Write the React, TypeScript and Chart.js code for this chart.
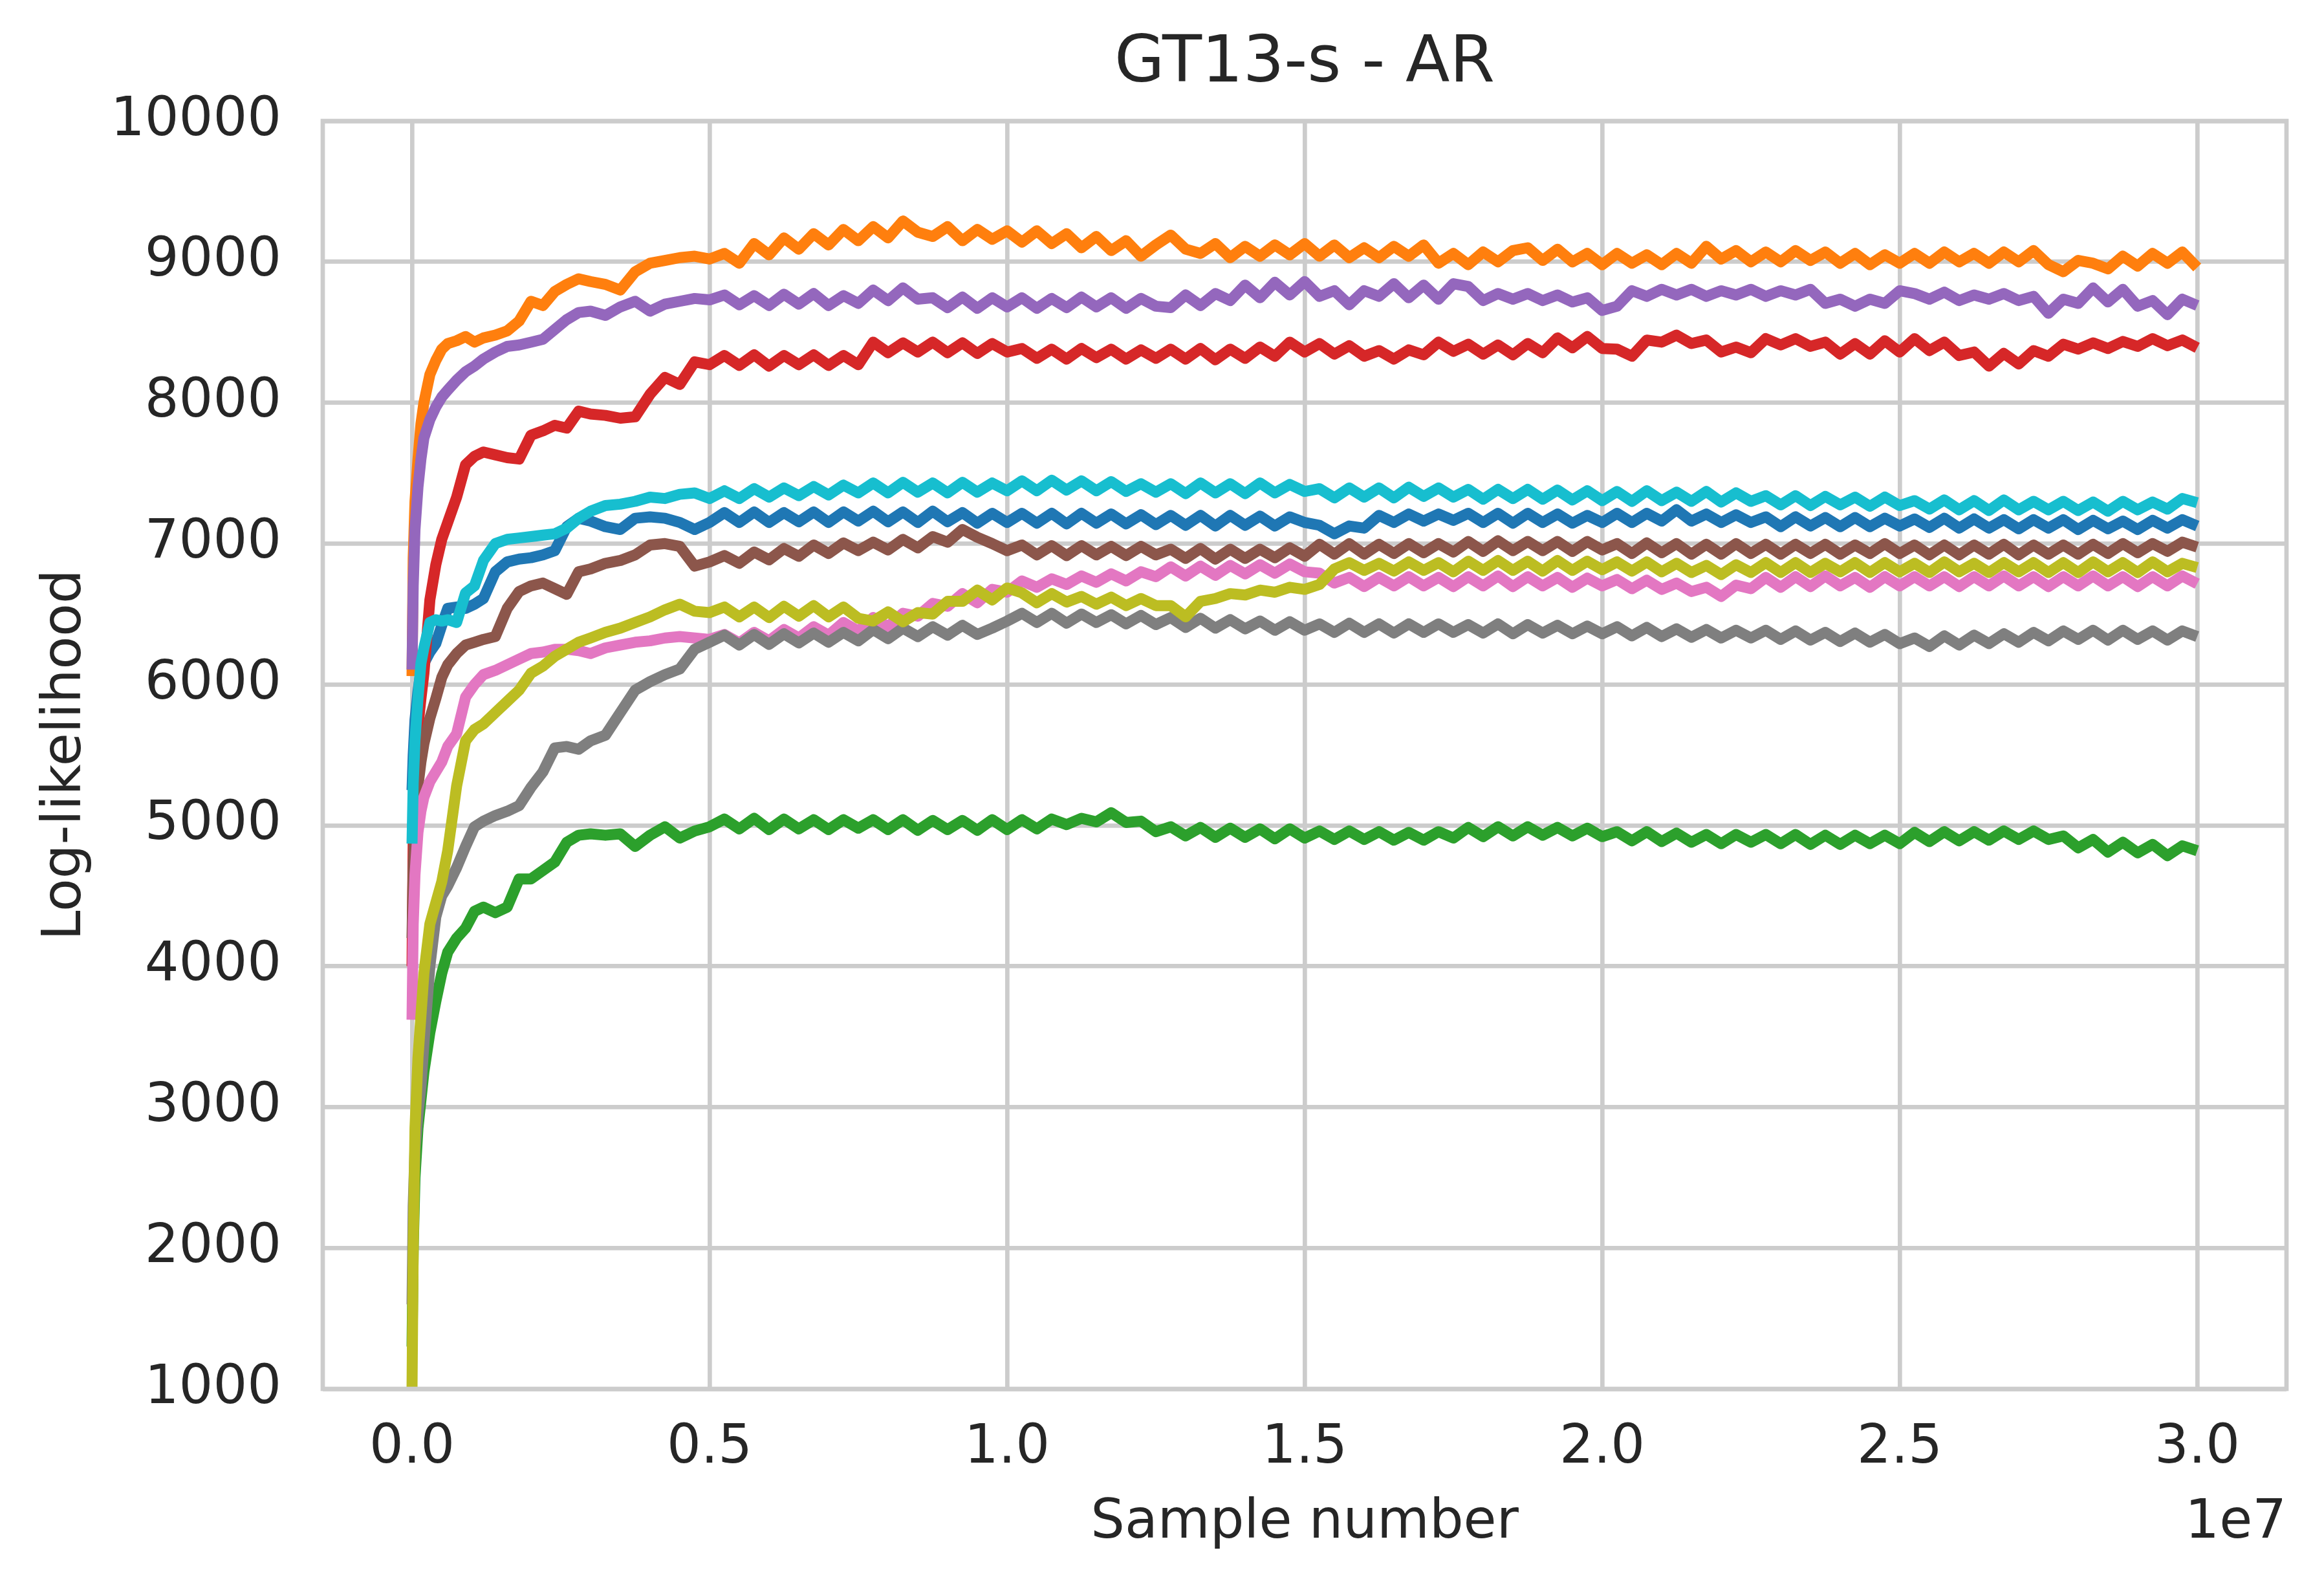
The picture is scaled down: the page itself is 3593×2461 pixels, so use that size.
import React, { useEffect, useRef } from 'react';
import { Chart, registerables } from 'chart.js';
import type { Plugin } from 'chart.js';

Chart.register(...registerables);

const TITLE = 'GT13-s - AR';
const X_LABEL = 'Sample number';
const Y_LABEL = 'Log-likelihood';
const OFFSET_LABEL = '1e7';

// sample number, in millions
const samples = [
  0, 0.02, 0.05, 0.1, 0.15, 0.2, 0.3, 0.4, 0.5, 0.6, 0.75, 0.9, 1.05, 1.2, 1.4, 1.6,
  1.8, 2, 2.2, 2.4, 2.6, 2.8, 3, 3.25, 3.5, 3.75, 4, 4.25, 4.5, 4.75, 5,
  5.25, 5.5, 5.75, 6, 6.25, 6.5, 6.75, 7, 7.25, 7.5,
  7.75, 8, 8.25, 8.5, 8.75, 9, 9.25, 9.5, 9.75, 10,
  10.25, 10.5, 10.75, 11, 11.25, 11.5, 11.75, 12, 12.25, 12.5,
  12.75, 13, 13.25, 13.5, 13.75, 14, 14.25, 14.5, 14.75, 15,
  15.25, 15.5, 15.75, 16, 16.25, 16.5, 16.75, 17, 17.25, 17.5,
  17.75, 18, 18.25, 18.5, 18.75, 19, 19.25, 19.5, 19.75, 20,
  20.25, 20.5, 20.75, 21, 21.25, 21.5, 21.75, 22, 22.25, 22.5,
  22.75, 23, 23.25, 23.5, 23.75, 24, 24.25, 24.5, 24.75, 25,
  25.25, 25.5, 25.75, 26, 26.25, 26.5, 26.75, 27, 27.25, 27.5,
  27.75, 28, 28.25, 28.5, 28.75, 29, 29.25, 29.5, 29.75, 30,
];

const xTicks = [0, 5, 10, 15, 20, 25, 30];
const yTicks = [1000, 2000, 3000, 4000, 5000, 6000, 7000, 8000, 9000, 10000];

const blueRun = [
  5250, 5500, 5750, 5950, 6100, 6150, 6230, 6290, 6420, 6540, 6550, 6540, 6570, 6610, 6800, 6870,
  6890, 6900, 6920, 6950, 7120, 7180, 7160, 7120, 7100, 7180, 7190, 7180, 7150, 7100, 7150,
  7220, 7150, 7225, 7150, 7220, 7155, 7225, 7150, 7225, 7160,
  7230, 7155, 7225, 7150, 7230, 7155, 7220, 7145, 7215, 7150,
  7215, 7145, 7215, 7140, 7215, 7145, 7210, 7140, 7205, 7135,
  7200, 7130, 7200, 7125, 7200, 7130, 7195, 7125, 7190, 7150,
  7130, 7070, 7125, 7110, 7200, 7150, 7210, 7160, 7210, 7165,
  7215, 7150, 7215, 7145, 7215, 7150, 7210, 7145, 7200, 7150,
  7215, 7150, 7215, 7160, 7240, 7160, 7210, 7150, 7205, 7150,
  7190, 7120, 7190, 7125, 7185, 7120, 7185, 7120, 7180, 7125,
  7175, 7115, 7180, 7110, 7175, 7110, 7170, 7105, 7170, 7110,
  7170, 7100, 7165, 7105, 7160, 7100, 7165, 7110, 7170, 7125,
];

const orangeRun = [
  6060, 6900, 7300, 7600, 7850, 8000, 8200, 8300, 8380, 8420, 8440, 8470, 8430, 8460, 8480, 8510,
  8580, 8720, 8690, 8790, 8840, 8880, 8860, 8840, 8800, 8930, 8990, 9010, 9030, 9040, 9020,
  9060, 8990, 9130, 9050, 9170, 9090, 9200, 9120, 9230, 9150,
  9250, 9170, 9290, 9210, 9180, 9250, 9150, 9230, 9160, 9220,
  9140, 9220, 9130, 9200, 9100, 9180, 9080, 9150, 9040, 9120,
  9190, 9090, 9060, 9130, 9030, 9110, 9040, 9120, 9050, 9130,
  9040, 9120, 9030, 9100, 9030, 9110, 9040, 9120, 8990, 9060,
  8980, 9070, 9000, 9080, 9100, 9010, 9090, 9000, 9060, 8980,
  9060, 8990, 9050, 8980, 9060, 8990, 9110, 9020, 9080, 9000,
  9070, 9000, 9080, 9010, 9070, 8990, 9060, 8980, 9050, 8990,
  9060, 8990, 9070, 9000, 9060, 8990, 9070, 9000, 9080, 8980,
  8930, 9010, 8990, 8950, 9040, 8970, 9060, 8990, 9070, 8960,
];

const greenRun = [
  1300, 2000, 2500, 2850, 3050, 3250, 3530, 3750, 3950, 4100, 4200, 4270, 4390, 4420, 4380, 4420,
  4620, 4620, 4680, 4740, 4880, 4930, 4940, 4930, 4940, 4850, 4930, 4990, 4910, 4960, 4990,
  5045, 4975, 5050, 4970, 5045, 4975, 5040, 4970, 5040, 4980,
  5040, 4970, 5040, 4965, 5035, 4970, 5035, 4965, 5040, 4970,
  5040, 4975, 5045, 5005, 5050, 5025, 5090, 5020, 5030, 4955,
  4990, 4925, 4985, 4915, 4980, 4915, 4975, 4905, 4975, 4910,
  4960, 4900, 4960, 4900, 4955, 4895, 4950, 4895, 4955, 4910,
  4985, 4920, 4990, 4925, 4990, 4930, 4985, 4925, 4980, 4920,
  4955, 4890, 4955, 4885, 4945, 4880, 4935, 4870, 4935, 4880,
  4935, 4870, 4935, 4865, 4930, 4865, 4930, 4870, 4930, 4870,
  4950, 4885, 4955, 4890, 4955, 4895, 4960, 4900, 4960, 4900,
  4925, 4840, 4900, 4810, 4880, 4805, 4865, 4785, 4855, 4820,
];

const redRun = [
  4000, 4900, 5400, 5700, 5900, 6080, 6600, 6850, 7030, 7150, 7330, 7560, 7620, 7650, 7630, 7610,
  7600, 7770, 7800, 7840, 7820, 7940, 7920, 7910, 7890, 7900, 8060, 8180, 8130, 8290, 8270,
  8335, 8265, 8340, 8260, 8335, 8270, 8340, 8265, 8335, 8270,
  8430, 8355, 8425, 8360, 8430, 8355, 8425, 8350, 8420, 8360,
  8385, 8315, 8380, 8310, 8385, 8320, 8380, 8310, 8375, 8315,
  8380, 8310, 8385, 8305, 8380, 8315, 8395, 8330, 8430, 8360,
  8420, 8345, 8405, 8330, 8370, 8310, 8375, 8340, 8430, 8365,
  8415, 8345, 8410, 8340, 8420, 8355, 8460, 8390, 8470, 8385,
  8380, 8330, 8445, 8430, 8480, 8420, 8445, 8360, 8395, 8355,
  8455, 8410, 8455, 8400, 8430, 8345, 8420, 8345, 8440, 8360,
  8455, 8370, 8430, 8335, 8360, 8260, 8350, 8275, 8370, 8330,
  8415, 8380, 8425, 8385, 8435, 8400, 8455, 8405, 8445, 8390,
];

const purpleRun = [
  6105, 6700, 7100, 7400, 7600, 7750, 7880, 7970, 8040, 8090, 8160, 8220, 8260, 8310, 8360, 8400,
  8410, 8430, 8450, 8520, 8590, 8640, 8650, 8620, 8680, 8720, 8650, 8700, 8720, 8740, 8730,
  8765, 8695, 8760, 8690, 8770, 8700, 8775, 8690, 8760, 8705,
  8800, 8725, 8815, 8735, 8745, 8675, 8750, 8670, 8745, 8680,
  8745, 8670, 8740, 8675, 8750, 8680, 8745, 8670, 8740, 8685,
  8675, 8765, 8690, 8775, 8725, 8835, 8745, 8855, 8765, 8860,
  8755, 8795, 8695, 8795, 8755, 8845, 8745, 8835, 8735, 8845,
  8825, 8725, 8775, 8735, 8775, 8725, 8765, 8715, 8745, 8655,
  8685, 8795, 8755, 8805, 8765, 8805, 8755, 8795, 8765, 8805,
  8755, 8795, 8765, 8805, 8705, 8735, 8685, 8735, 8705, 8795,
  8775, 8735, 8785, 8725, 8765, 8735, 8775, 8725, 8755, 8635,
  8735, 8705, 8815, 8715, 8805, 8685, 8725, 8625, 8735, 8690,
];

const brownRun = [
  4200, 4700, 5000, 5280, 5450, 5580, 5760, 5900, 6050, 6140, 6220, 6280, 6300, 6320, 6340, 6540,
  6660, 6700, 6720, 6680, 6640, 6800, 6820, 6860, 6880, 6920, 6990, 7000, 6980, 6840, 6870,
  6915, 6860, 6940, 6885, 6965, 6910, 6990, 6930, 7005, 6950,
  7010, 6955, 7030, 6970, 7050, 7010, 7100, 7045, 7000, 6950,
  6990, 6920, 6985, 6915, 6985, 6920, 6980, 6915, 6980, 6920,
  6960, 6895, 6965, 6890, 6960, 6895, 6960, 6900, 6970, 6910,
  6995, 6925, 7000, 6925, 6995, 6930, 7000, 6935, 7000, 6940,
  7015, 6945, 7020, 6950, 7015, 6950, 7015, 6945, 7015, 6955,
  7000, 6930, 7005, 6935, 7000, 6925, 6995, 6925, 7000, 6930,
  6995, 6925, 6995, 6930, 6995, 6925, 6990, 6930, 7000, 6930,
  6990, 6920, 6990, 6920, 6990, 6925, 6995, 6920, 6990, 6925,
  6990, 6925, 6995, 6930, 7000, 6935, 7000, 6945, 7010, 6975,
];

const pinkRun = [
  3620, 4300, 4650, 4950, 5100, 5200, 5310, 5380, 5450, 5560, 5650, 5910, 6000, 6070, 6100, 6140,
  6180, 6220, 6230, 6250, 6250, 6240, 6220, 6260, 6280, 6300, 6310, 6330, 6340, 6330, 6320,
  6355, 6295, 6370, 6310, 6390, 6330, 6410, 6350, 6440, 6380,
  6475, 6410, 6505, 6485, 6575, 6555, 6645, 6580, 6675, 6655,
  6735, 6690, 6750, 6710, 6770, 6725, 6785, 6735, 6800, 6765,
  6835, 6770, 6840, 6775, 6845, 6785, 6850, 6790, 6855, 6800,
  6790, 6720, 6760, 6695, 6760, 6700, 6765, 6700, 6760, 6695,
  6765, 6700, 6770, 6695, 6765, 6700, 6760, 6690, 6755, 6700,
  6745, 6680, 6740, 6675, 6720, 6660, 6690, 6625, 6705, 6680,
  6760, 6690, 6765, 6695, 6770, 6700, 6760, 6690, 6765, 6700,
  6765, 6700, 6765, 6695, 6765, 6700, 6770, 6700, 6765, 6695,
  6765, 6700, 6770, 6700, 6765, 6695, 6765, 6700, 6770, 6715,
];

const grayRun = [
  1600, 2300, 2700, 2950, 3150, 3450, 4000, 4350, 4500, 4570, 4700, 4850, 4990, 5030, 5070, 5100,
  5140, 5270, 5380, 5550, 5560, 5540, 5600, 5640, 5800, 5960, 6020, 6070, 6110, 6250, 6300,
  6350, 6280, 6355, 6285, 6360, 6295, 6365, 6300, 6370, 6310,
  6390, 6325, 6400, 6340, 6410, 6350, 6420, 6355, 6400, 6450,
  6505, 6440, 6505, 6435, 6500, 6440, 6495, 6430, 6490, 6425,
  6475, 6405, 6470, 6400, 6460, 6395, 6450, 6385, 6445, 6385,
  6430, 6370, 6435, 6370, 6430, 6365, 6430, 6370, 6430, 6370,
  6425, 6365, 6430, 6360, 6425, 6365, 6420, 6360, 6415, 6360,
  6410, 6345, 6405, 6340, 6395, 6335, 6390, 6330, 6385, 6330,
  6385, 6320, 6380, 6315, 6370, 6305, 6365, 6300, 6355, 6290,
  6330, 6270, 6345, 6280, 6350, 6290, 6360, 6300, 6370, 6310,
  6380, 6320, 6385, 6315, 6385, 6320, 6380, 6315, 6380, 6340,
];

const oliveRun = [
  1000, 2000, 2850, 3350, 3650, 3950, 4300, 4450, 4600, 4820, 5280, 5600, 5680, 5720, 5800, 5880,
  5960, 6080, 6130, 6200, 6250, 6300, 6330, 6370, 6400, 6440, 6480, 6530, 6570, 6520, 6510,
  6550, 6480, 6550, 6475, 6555, 6485, 6560, 6480, 6550, 6470,
  6450, 6515, 6445, 6510, 6500, 6590, 6590, 6670, 6600, 6685,
  6650, 6580, 6645, 6585, 6625, 6570, 6620, 6560, 6610, 6560,
  6560, 6480, 6590, 6610, 6645, 6635, 6670, 6655, 6690, 6675,
  6710, 6820, 6865, 6810, 6860, 6805, 6870, 6810, 6865, 6800,
  6875, 6810, 6880, 6810, 6875, 6805, 6880, 6810, 6875, 6815,
  6870, 6805, 6870, 6800, 6860, 6795, 6845, 6780, 6850, 6795,
  6865, 6795, 6865, 6795, 6860, 6800, 6865, 6795, 6865, 6800,
  6860, 6795, 6870, 6800, 6860, 6795, 6865, 6800, 6865, 6795,
  6865, 6795, 6870, 6800, 6865, 6795, 6870, 6800, 6860, 6830,
];

const cyanRun = [
  4870, 5300, 5600, 5900, 6150, 6260, 6440, 6460, 6450, 6460, 6440, 6650, 6700, 6880, 7000, 7030,
  7040, 7050, 7060, 7070, 7110, 7180, 7230, 7270, 7280, 7300, 7330, 7320, 7350, 7360, 7320,
  7375, 7320, 7390, 7330, 7395, 7340, 7405, 7345, 7415, 7360,
  7430, 7360, 7435, 7365, 7430, 7360, 7435, 7365, 7430, 7375,
  7445, 7375, 7450, 7380, 7445, 7375, 7440, 7370, 7425, 7365,
  7425, 7355, 7430, 7360, 7425, 7355, 7430, 7360, 7420, 7370,
  7390, 7325, 7395, 7330, 7395, 7325, 7400, 7335, 7395, 7330,
  7385, 7315, 7385, 7320, 7385, 7315, 7380, 7310, 7375, 7305,
  7370, 7300, 7375, 7305, 7365, 7300, 7370, 7295, 7360, 7300,
  7340, 7275, 7340, 7270, 7335, 7275, 7330, 7265, 7330, 7270,
  7305, 7245, 7310, 7240, 7305, 7235, 7310, 7240, 7300, 7240,
  7300, 7235, 7295, 7230, 7300, 7240, 7295, 7245, 7320, 7290,
];

const runs = [blueRun, orangeRun, greenRun, redRun, purpleRun, brownRun, pinkRun, grayRun, oliveRun, cyanRun];
const palette = ['#1f77b4', '#ff7f0e', '#2ca02c', '#d62728', '#9467bd', '#8c564b', '#e377c2', '#7f7f7f', '#bcbd22', '#17becf'];

const FONT = "'DejaVu Sans', sans-serif";
const TEXT = '#262626';
const GRID = '#cccccc';

// spines on all four sides plus the matplotlib style offset text
const framePlugin: Plugin<'line'> = {
  id: 'frame',
  afterDatasetsDraw(chart) {
    const { ctx, chartArea: a } = chart;
    ctx.save();
    ctx.strokeStyle = GRID;
    ctx.lineWidth = 6.7;
    ctx.strokeRect(a.left, a.top, a.right - a.left, a.bottom - a.top);
    ctx.restore();
  },
  afterDraw(chart) {
    const { ctx, chartArea: a } = chart;
    ctx.save();
    ctx.font = `83px ${FONT}`;
    ctx.fillStyle = TEXT;
    ctx.textAlign = 'right';
    ctx.textBaseline = 'alphabetic';
    ctx.fillText(OFFSET_LABEL, a.right, a.bottom + 230);
    ctx.restore();
  },
};

const LogLikelihoodChart: React.FC = () => {
  const canvasRef = useRef<HTMLCanvasElement>(null);
  const chartRef = useRef<Chart | null>(null);

  useEffect(() => {
    if (!canvasRef.current) return;
    const ctx = canvasRef.current.getContext('2d');
    if (!ctx) return;

    if (chartRef.current) {
      chartRef.current.destroy();
    }

    const tickFont = { family: FONT, size: 83 };

    chartRef.current = new Chart(ctx, {
      type: 'line',
      data: {
        datasets: runs.map((run, i) => ({
          data: samples.map((x, j) => ({ x, y: run[j] })),
          borderColor: palette[i],
          backgroundColor: palette[i],
          borderWidth: 17,
          pointRadius: 0,
          tension: 0,
          fill: false,
          order: 10 - i,
        })),
      },
      options: {
        animation: false,
        responsive: true,
        maintainAspectRatio: false,
        devicePixelRatio: 1,
        layout: { padding: { left: 0, right: 58, top: 0, bottom: 0 } },
        elements: {
          line: { borderJoinStyle: 'round', borderCapStyle: 'butt' },
        },
        plugins: {
          legend: { display: false },
          tooltip: { enabled: false },
          title: {
            display: true,
            text: TITLE,
            color: TEXT,
            fullSize: false,
            font: { family: FONT, size: 100, weight: 'normal' },
            padding: { top: 40, bottom: 27 },
          },
        },
        scales: {
          x: {
            type: 'linear',
            min: -1.5,
            max: 31.5,
            afterFit: (scale) => {
              scale.height = 314;
            },
            afterBuildTicks: (scale) => {
              scale.ticks = xTicks.map((v) => ({ value: v }));
            },
            grid: { color: GRID, lineWidth: 6.7, drawTicks: false },
            border: { display: false },
            ticks: {
              padding: 43,
              color: TEXT,
              font: tickFont,
              autoSkip: false,
              maxRotation: 0,
              callback: (v) => (Number(v) / 10).toFixed(1),
            },
            title: {
              display: true,
              text: X_LABEL,
              color: TEXT,
              font: tickFont,
              padding: { top: 0, bottom: 56 },
            },
          },
          y: {
            type: 'linear',
            min: 1000,
            max: 10000,
            afterFit: (scale) => {
              scale.width = 499;
            },
            afterBuildTicks: (scale) => {
              scale.ticks = yTicks.map((v) => ({ value: v }));
            },
            grid: { color: GRID, lineWidth: 6.7, drawTicks: false },
            border: { display: false },
            ticks: {
              padding: 64,
              color: TEXT,
              font: tickFont,
              autoSkip: false,
              callback: (v) => String(v),
            },
            title: {
              display: true,
              text: Y_LABEL,
              color: TEXT,
              font: tickFont,
              padding: { top: 53, bottom: 0 },
            },
          },
        },
      },
      plugins: [framePlugin],
    });

    return () => {
      if (chartRef.current) {
        chartRef.current.destroy();
        chartRef.current = null;
      }
    };
  }, []);

  return (
    <div style={{ position: 'absolute', left: 0, top: 0, width: 3593, height: 2461, background: '#ffffff' }}>
      <canvas ref={canvasRef}></canvas>
    </div>
  );
};

export default function App() {
  return <LogLikelihoodChart />;
}
